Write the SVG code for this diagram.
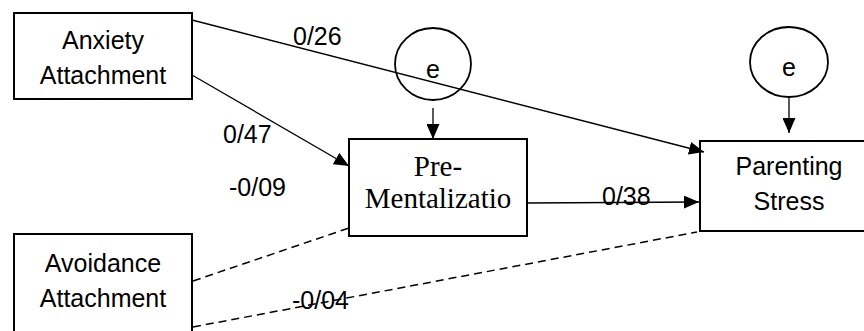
<svg xmlns="http://www.w3.org/2000/svg" width="864" height="331" viewBox="0 0 864 331">
<style>
.box{fill:#fff;stroke:#000;stroke-width:2}
.err{fill:#fff;stroke:#000;stroke-width:1.8}
.sans{font-family:"Liberation Sans",Arial,sans-serif;font-size:25px;fill:#000}
.serif{font-family:"Liberation Serif","Times New Roman",serif;font-size:29px;fill:#000}
.arr{stroke:#000;stroke-width:1.3;fill:none;marker-end:url(#ah)}
.dash{stroke:#000;stroke-width:1.5;fill:none;stroke-dasharray:8 5}
</style>
<defs>
<marker id="ah" markerUnits="userSpaceOnUse" markerWidth="15" markerHeight="13" refX="15" refY="6.5" orient="auto">
<path d="M0,0 L15,6.5 L0,13 z" fill="#000"/>
</marker>
</defs>
<rect width="864" height="331" fill="#fff"/>
<g id="anxiety">
<rect class="box" x="14" y="13" width="178" height="86"/>
<text class="sans" x="103" y="49" text-anchor="middle">Anxiety</text>
<text class="sans" x="103" y="84" text-anchor="middle">Attachment</text>
</g>
<g id="avoidance">
<rect class="box" x="14" y="234" width="178" height="110"/>
<text class="sans" x="103" y="272" text-anchor="middle">Avoidance</text>
<text class="sans" x="103" y="307" text-anchor="middle">Attachment</text>
</g>
<g id="prementalization">
<rect class="box" x="349" y="139" width="178" height="97"/>
<text class="serif" x="438" y="176" text-anchor="middle">Pre-</text>
<text class="serif" x="438" y="208" text-anchor="middle">Mentalizatio</text>
</g>
<g id="parenting">
<rect class="box" x="700" y="141" width="178" height="90"/>
<text class="sans" x="789" y="175" text-anchor="middle">Parenting</text>
<text class="sans" x="789" y="210" text-anchor="middle">Stress</text>
</g>
<g id="e1">
<ellipse class="err" cx="433" cy="64" rx="38" ry="36"/>
<text class="sans" x="433" y="78" text-anchor="middle">e</text>
</g>
<g id="e2">
<ellipse class="err" cx="789" cy="62" rx="39" ry="35"/>
<text class="sans" x="789" y="76" text-anchor="middle">e</text>
</g>
<g id="connectors">
<line class="arr" x1="192" y1="20" x2="704" y2="152"/>
<line class="arr" x1="192" y1="75" x2="349" y2="166"/>
<line class="arr" x1="527" y1="203" x2="699" y2="202"/>
<line class="arr" x1="433" y1="108" x2="433" y2="139"/>
<line class="arr" x1="789" y1="97" x2="789" y2="133"/>
<line class="dash" x1="193" y1="281" x2="352" y2="227"/>
<line class="dash" x1="193" y1="327" x2="697" y2="232"/>
</g>
<g id="labels">
<text class="sans" x="293" y="45">0/26</text>
<text class="sans" x="223" y="143">0/47</text>
<text class="sans" x="229" y="196">-0/09</text>
<text class="sans" x="602" y="205">0/38</text>
<text class="sans" x="292" y="309">-0/04</text>
</g>
</svg>
